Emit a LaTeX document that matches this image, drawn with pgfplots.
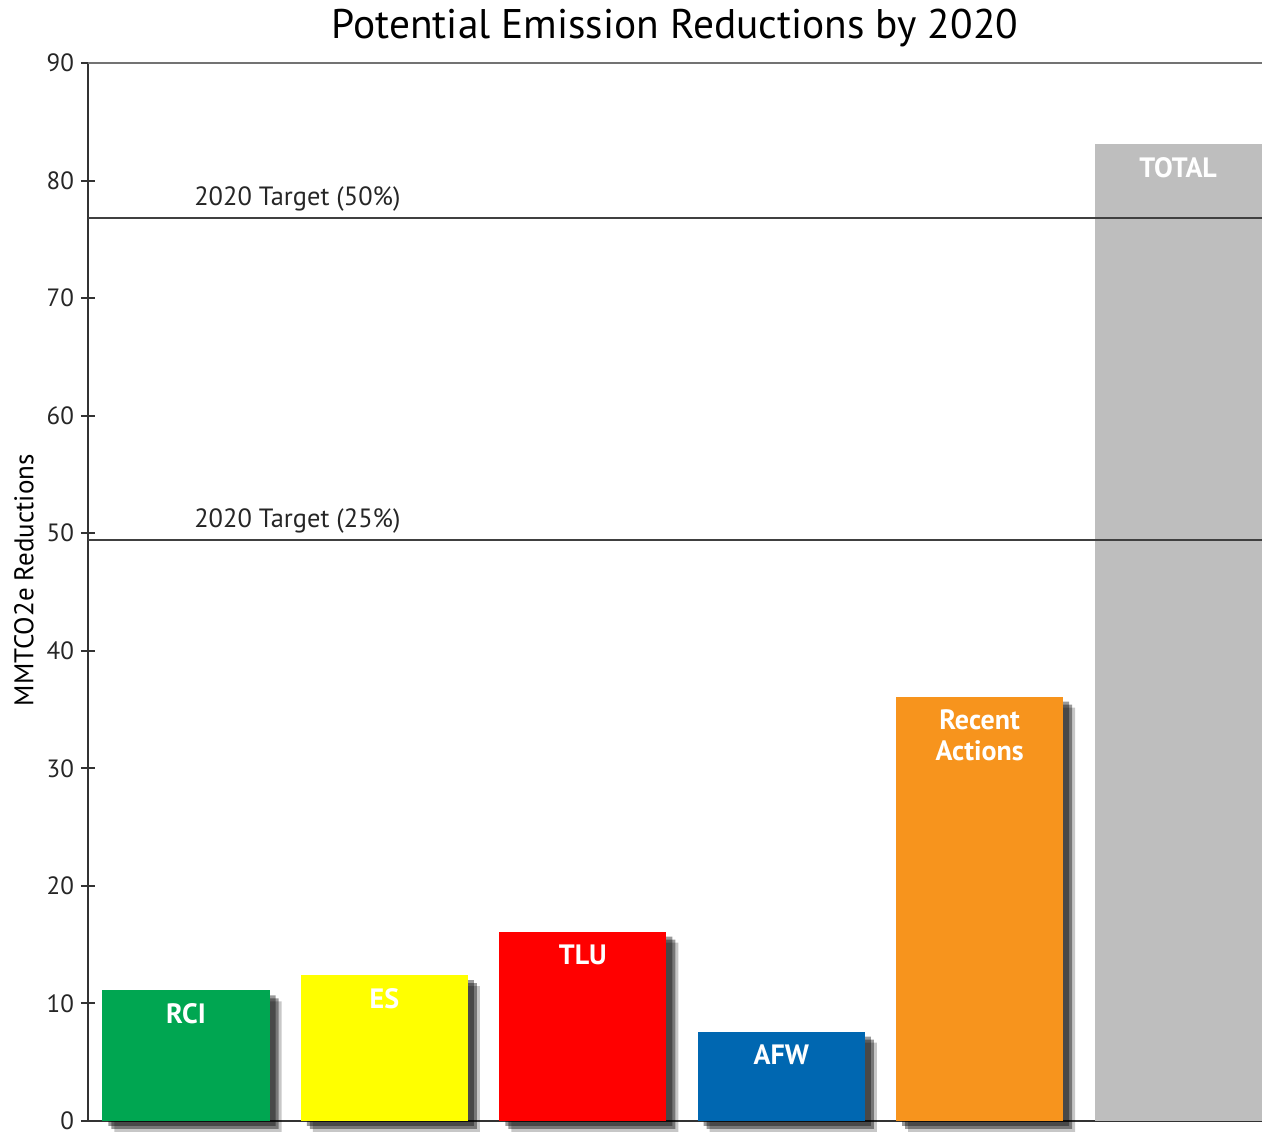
\documentclass[border=0pt]{standalone}
\usepackage{pgfplots}
\pgfplotsset{compat=1.18}
\usepackage{fontspec}
\setmainfont{PT Sans}
\definecolor{cRCI}{HTML}{00A651}
\definecolor{cES}{HTML}{FFFF00}
\definecolor{cTLU}{HTML}{FF0000}
\definecolor{cAFW}{HTML}{0067B1}
\definecolor{cRA}{HTML}{F7941D}
\definecolor{cTOT}{HTML}{BEBEBE}
\pgfplotstableread{
x y
0 11.1
1 12.4
2 16.1
3 7.6
4 36.1
}\shadowdata
\begin{document}
\begin{tikzpicture}
\begin{axis}[
  name=ax,
  scale only axis, width=587pt, height=529pt,
  xmin=-0.494, xmax=5.423, ymin=0, ymax=90,
  axis x line=bottom, axis y line=left,
  axis line style={-, line width=1pt, color=black!80},
  xtick=\empty, ytick={0,10,...,90},
  tick align=center, major tick length=7pt,
  tick style={line width=1pt, black!80},
  yticklabel style={font=\fontsize{12.5}{14}\selectfont, text=black!85},
  /pgf/number format/assume math mode=true,
  ylabel={MMTCO2e Reductions},
  ylabel style={at={(axis description cs:-0.0545,0.511)}, anchor=center, font=\fontsize{13.5}{15}\selectfont},
  title={Potential Emission Reductions by 2020},
  title style={at={(axis description cs:0.5,1)}, anchor=base, yshift=6pt, font=\fontsize{20.7}{24}\selectfont},
  bar width=0.842,
  clip=false,
  nodes near coords style={anchor=north, yshift=-6.5pt, font=\bfseries\fontsize{14}{15.5}\selectfont, text=white, align=center, inner sep=0pt},
]
% drop shadows (layered for a soft edge)
\addplot[ybar, bar shift=3pt, yshift=-2.5pt, fill=black, draw=none, fill opacity=0.4, forget plot] table {\shadowdata};
\addplot[ybar, bar shift=4.5pt, yshift=-4pt, fill=black, draw=none, fill opacity=0.4, forget plot] table {\shadowdata};
\addplot[ybar, bar shift=6pt, yshift=-5.5pt, fill=black, draw=none, fill opacity=0.22, forget plot] table {\shadowdata};
% bars
\addplot[ybar, bar shift=0pt, fill=cRCI, draw=none, nodes near coords={RCI}] coordinates {(0,11.1)};
\addplot[ybar, bar shift=0pt, fill=cES, draw=none, nodes near coords={ES}] coordinates {(1,12.4)};
\addplot[ybar, bar shift=0pt, fill=cTLU, draw=none, nodes near coords={TLU}] coordinates {(2,16.1)};
\addplot[ybar, bar shift=0pt, fill=cAFW, draw=none, nodes near coords={AFW}] coordinates {(3,7.6)};
\addplot[ybar, bar shift=0pt, fill=cRA, draw=none, nodes near coords={Recent\\Actions}] coordinates {(4,36.1)};
\addplot[ybar, bar shift=0pt, fill=cTOT, draw=none, nodes near coords={TOTAL}] coordinates {(5,83.1)};
% targets
\addplot[sharp plot, black!75, line width=0.8pt, no marks] coordinates {(-0.494,76.8) (5.423,76.8)};
\addplot[sharp plot, black!75, line width=0.8pt, no marks] coordinates {(-0.494,49.4) (5.423,49.4)};
\node[anchor=base west, inner sep=0pt, font=\fontsize{13.2}{15}\selectfont, text=black!85] at (axis cs:0.04,76.8) [yshift=6.5pt] {2020 Target (50\%)};
\node[anchor=base west, inner sep=0pt, font=\fontsize{13.2}{15}\selectfont, text=black!85] at (axis cs:0.04,49.4) [yshift=6.5pt] {2020 Target (25\%)};
\draw[black!55, line width=0.6pt] (rel axis cs:0,1) -- (rel axis cs:1,1);
\end{axis}
\pgfresetboundingbox
\path[use as bounding box] ([xshift=-44pt,yshift=-6.5pt]ax.south west) rectangle ([yshift=31.5pt]ax.north east);
\end{tikzpicture}
\end{document}
